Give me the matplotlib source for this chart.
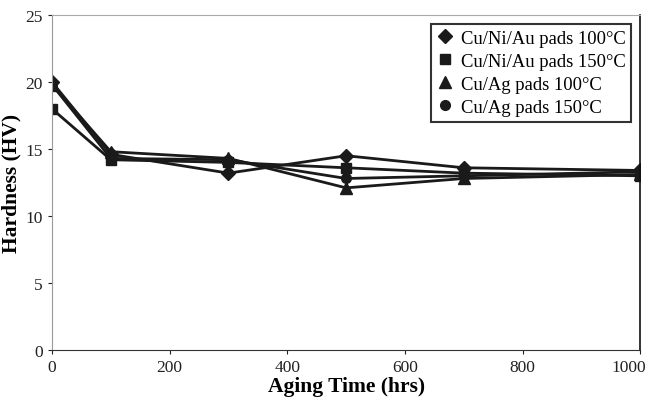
import matplotlib
matplotlib.use("Agg")
import matplotlib.pyplot as plt
from matplotlib.transforms import ScaledTranslation

aging_time = [0, 100, 300, 500, 700, 1000]
cuniau_100 = [20.0, 14.6, 13.2, 14.5, 13.6, 13.4]
cuniau_150 = [18.0, 14.2, 14.0, 13.6, 13.2, 13.0]
cuag_100 = [19.8, 14.8, 14.3, 12.1, 12.8, 13.1]
cuag_150 = [19.8, 14.3, 14.2, 12.8, 13.0, 13.3]

labels = ["Cu/Ni/Au pads 100\u00b0C", "Cu/Ni/Au pads 150\u00b0C",
          "Cu/Ag pads 100\u00b0C", "Cu/Ag pads 150\u00b0C"]
markers = ["D", "s", "^", "o"]
sizes = [7, 7, 8, 7]

plt.rcParams["font.family"] = ["Liberation Serif", "DejaVu Serif"]

fig = plt.figure(figsize=(6.5, 4.02), dpi=100)
ax = fig.add_axes([0.08, 0.127, 0.905, 0.833])

for ys, m, s, lab in zip([cuniau_100, cuniau_150, cuag_100, cuag_150], markers, sizes, labels):
    ax.plot(aging_time, ys, color="#1a1a1a", lw=2, marker=m, ms=s, label=lab)

ax.set_xlim(0, 1000)
ax.set_ylim(0, 25)
ax.set_xticks(range(0, 1001, 200))
ax.set_yticks(range(0, 26, 5))
ax.tick_params(labelsize=12.5, length=3, width=0.8, colors="#222222")
ax.set_xlabel("Aging Time (hrs)", fontsize=15.5, fontweight="bold", labelpad=1)
ax.set_ylabel("Hardness (HV)", fontsize=15.5, fontweight="bold", labelpad=3)

# keep the last x tick label inside the figure
last = ax.get_xticklabels()[-1]
last.set_transform(last.get_transform() + ScaledTranslation(-8 / 72, 0, fig.dpi_scale_trans))

ax.spines["top"].set_color("#aaaaaa")
ax.spines["left"].set_color("#999999")
ax.spines["bottom"].set_color("#333333")
ax.spines["right"].set_color("#111111")
ax.spines["right"].set_linewidth(1.2)

leg = ax.legend(loc="upper right", fontsize=13.4, frameon=True, fancybox=False,
                edgecolor="black", borderpad=0.3, handletextpad=0.4,
                handlelength=0.9, labelspacing=0.32, borderaxespad=0.5)
leg.get_frame().set_linewidth(1.5)
for h in leg.legend_handles:
    h.set_linestyle("none")

fig.savefig("out.png", dpi=100)
